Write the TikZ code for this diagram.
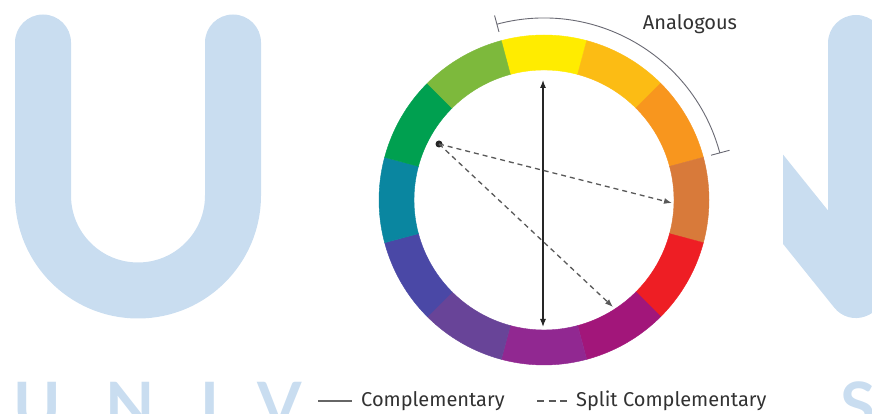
\documentclass[tikz,border=0pt]{standalone}
\usepackage{fontspec}
\setmainfont{Fira Sans}
\newfontfamily\wmfont{Lato}
\usetikzlibrary{arrows.meta}

\definecolor{wheelYellow}{RGB}{255,236,0}
\definecolor{wheelYellowOrange}{RGB}{252,188,20}
\definecolor{wheelOrange}{RGB}{248,150,30}
\definecolor{wheelBrown}{RGB}{216,122,58}
\definecolor{wheelRed}{RGB}{238,30,36}
\definecolor{wheelMagenta}{RGB}{162,22,122}
\definecolor{wheelPurple}{RGB}{145,40,145}
\definecolor{wheelViolet}{RGB}{104,68,152}
\definecolor{wheelBlueViolet}{RGB}{74,72,166}
\definecolor{wheelTeal}{RGB}{10,134,160}
\definecolor{wheelGreen}{RGB}{0,160,80}
\definecolor{wheelYellowGreen}{RGB}{125,185,60}
\definecolor{wmblue}{RGB}{201,221,240}
\definecolor{textgray}{RGB}{50,50,50}
\definecolor{bracketgray}{RGB}{105,105,115}

\begin{document}
\begin{tikzpicture}[
    x=1pt, y=1pt,
    >={Latex[length=8pt,width=6pt]},
    every node/.style={font=\fontsize{20}{23}\selectfont, text=textgray, inner sep=0pt},
    wm/.style={draw=wmblue, line width=56pt, line cap=round, line join=round},
    wmletter/.style={font=\wmfont\fontsize{64}{64}\selectfont\bfseries, text=wmblue, anchor=base},
    compl/.style={draw=black!85, line width=1.1pt},
    split/.style={draw=black!65, line width=1.3pt, dash pattern=on 5pt off 4pt},
    bracket/.style={draw=bracketgray, line width=0.9pt},
]
\useasboundingbox (0,0) rectangle (872,414);

% watermark behind the figure
\begin{scope}
  \clip (0,0) rectangle (872,414);
  \draw[wm] (43,371.5) -- (43,218.5) arc[start angle=180, end angle=360, radius=95] -- (233,371.5);
  \draw[wm] (700,318) -- (856,124) -- (856,371);
  \node[wmletter] (wu) at (37,-15)  {U};
  \node[wmletter] (wn) at (130,-15) {N};
  \node[wmletter] (wi) at (210,-15) {I};
  \node[wmletter] (wv) at (280,-15) {V};
  \node[wmletter] (ws) at (858,-15) {S};
\end{scope}
\fill[white] (305,0) rectangle (783,414);

% colour wheel
\coordinate (c) at (544,214);
\begin{scope}[shift={(c)}]
  \foreach \col [count=\i from 0] in {wheelYellow,wheelYellowOrange,wheelOrange,wheelBrown,
      wheelRed,wheelMagenta,wheelPurple,wheelViolet,wheelBlueViolet,wheelTeal,wheelGreen,wheelYellowGreen}
    \filldraw[fill=\col, draw=\col, line width=0.4pt]
      ({105-30*\i}:165) arc[start angle={105-30*\i}, end angle={75-30*\i}, radius=165]
      -- ({75-30*\i}:130) arc[start angle={75-30*\i}, end angle={105-30*\i}, radius=130] -- cycle;
  % analogous bracket
  \draw[bracket] (105:182) arc[start angle=105, end angle=15, radius=182];
  \draw[bracket] (105:174) -- (105:191);
  \draw[bracket] (15:173) -- (15:192);
\end{scope}
\node[anchor=base] (analog) at (690,384) {Analogous};

% harmony arrows
\coordinate (top) at (543,334);
\coordinate (bot) at (543,87);
\coordinate (dot) at (439,270);
\coordinate (sc1) at (672,211);
\coordinate (sc2) at (613,107);
\draw[compl, <->] (bot) -- (top);
\fill[black!85] (dot) circle (3.5);
\draw[split, ->] (dot) -- (sc1);
\draw[split, ->] (dot) -- (sc2);

% legend
\coordinate (lga) at (318,13);
\coordinate (lgb) at (352,13);
\coordinate (lgc) at (537,13);
\coordinate (lgd) at (568,13);
\draw[compl, draw=black!60, line width=1.4pt] (lga) -- (lgb);
\node[anchor=base west] (lcomp) at (361,7) {Complementary};
\draw[split, dash pattern=on 7pt off 4.5pt] (lgc) -- (lgd);
\node[anchor=base west] (lsplit) at (576,7) {Split Complementary};
\end{tikzpicture}
\end{document}
